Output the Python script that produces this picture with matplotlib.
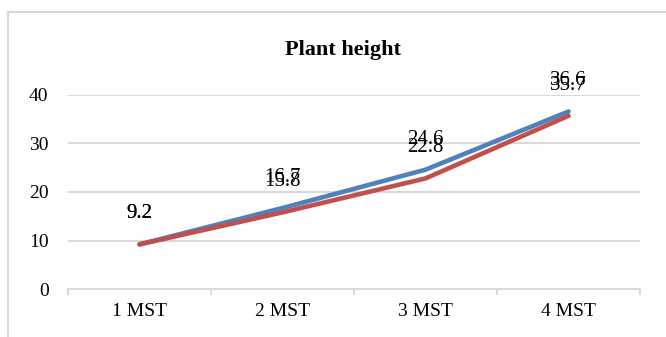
import matplotlib
matplotlib.use("Agg")
import matplotlib.pyplot as plt
from matplotlib.patches import Rectangle

categories = ["1 MST", "2 MST", "3 MST", "4 MST"]
series_blue = [9.2, 16.7, 24.6, 36.6]
series_red = [9.2, 15.8, 22.8, 35.7]
yticks = [0, 10, 20, 30, 40]
title = "Plant height"

plt.rcParams['font.family'] = ['Liberation Serif', 'DejaVu Serif']

fig = plt.figure(figsize=(6.66, 3.37), dpi=100)
ax = fig.add_axes([68/666, 1-289/337, (640-68)/666, (289-95)/337])

# outer chart border
fig.patches.append(Rectangle((8/666, -0.2), 1.2, 1-12/337+0.2, transform=fig.transFigure,
                             fill=False, edgecolor='#D9D9D9', linewidth=1.6))

x = list(range(len(categories)))
ax.plot(x, series_blue, color='#4F81BD', linewidth=3.3, solid_capstyle='round', zorder=3)
ax.plot(x, series_red, color='#C0504D', linewidth=3.3, solid_capstyle='round', zorder=4)

for xi, v in zip(x, series_blue):
    ax.annotate(f"{v}", (xi, v), xytext=(0, 22), textcoords='offset points',
                ha='center', va='center', fontsize=15, color='black', zorder=5)
for xi, v in zip(x, series_red):
    ax.annotate(f"{v}", (xi, v), xytext=(0, 22), textcoords='offset points',
                ha='center', va='center', fontsize=15, color='black', zorder=5)

ax.set_xlim(-0.5, len(categories) - 0.5)
ax.set_ylim(0, 40)
ax.set_yticks(yticks)
ax.set_yticklabels([str(t) for t in yticks], fontsize=14)
ax.set_xticks(x)
ax.set_xticklabels(categories, fontsize=14)
ax.set_xticks([i - 0.5 for i in range(len(categories) + 1)], minor=True)
ax.tick_params(axis='x', which='major', length=0, pad=10)
ax.tick_params(axis='x', which='minor', length=4, color='#D9D9D9', width=1.5)
ax.tick_params(axis='y', length=0, pad=14)

ax.grid(axis='y', color='#D9D9D9', linewidth=1.5)
ax.set_axisbelow(True)
for s in ['top', 'right', 'left']:
    ax.spines[s].set_visible(False)
ax.spines['bottom'].set_color('#D9D9D9')
ax.spines['bottom'].set_linewidth(1.5)
ax.spines['bottom'].set_zorder(1)

fig.text(343/666, 1-50/337, title, ha='center', va='center', fontsize=16, fontweight='bold')

fig.savefig("out.png", dpi=100)
